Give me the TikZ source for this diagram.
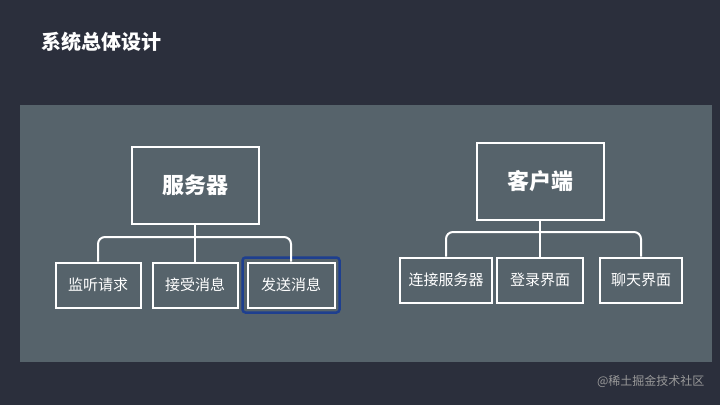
\documentclass[tikz,border=0pt]{standalone}
\usepackage{fontspec}
\newfontfamily\cjk{Noto Sans CJK SC}
\definecolor{bgc}{HTML}{2B2F3C}
\definecolor{panelc}{HTML}{56636B}
\definecolor{hl}{HTML}{1E3F8F}
\begin{document}
\begin{tikzpicture}[x=1pt,y=-1pt,
 box/.style={draw=white,line width=2pt,text=white,font=\cjk\fontsize{15}{17}\selectfont,minimum height=45pt,inner sep=0pt},
 bigbox/.style={draw=white,line width=2pt,text=white,font=\cjk\bfseries\fontsize{22}{25}\selectfont,minimum width=127pt,minimum height=77pt},
 link/.style={draw=white,line width=2pt,rounded corners=7pt}]
\fill[bgc] (0,0) rectangle (720,405);
\useasboundingbox (0,0) rectangle (720,405);
\fill[panelc] (20,105) rectangle (712,362);
\node[text=white,font=\cjk\bfseries\fontsize{20}{24}\selectfont,anchor=west] (title) at (38,42) {系统总体设计};
\node[text=gray!80,font=\cjk\fontsize{12}{14}\selectfont,anchor=east] (wm) at (708,381) {@稀土掘金技术社区};
% server
\node[bigbox] (srv) at (195,185) {服务器};
\node[box,minimum width=85pt] (s1) at (98,285) {监听请求};
\node[box,minimum width=85pt] (s2) at (195,285) {接受消息};
\node[box,minimum width=87pt] (s3) at (291,285) {发送消息};
\draw[hl,line width=2.5pt,rounded corners=3pt] ([shift={(-4,-4)}]s3.north west) rectangle ([shift={(4,4)}]s3.south east);
\draw[link] (s1.north) |- (195,237) -| (s3.north);
\draw[link] (srv.south) -- (s2.north);
% client
\node[bigbox] (cli) at (540,181) {客户端};
\node[box,minimum width=92pt] (c1) at (446,280) {连接服务器};
\node[box,minimum width=86pt] (c2) at (540,280) {登录界面};
\node[box,minimum width=82pt] (c3) at (641,280) {聊天界面};
\draw[link] (c1.north) |- (540,232) -| (c3.north);
\draw[link] (cli.south) -- (c2.north);
\end{tikzpicture}
\end{document}
